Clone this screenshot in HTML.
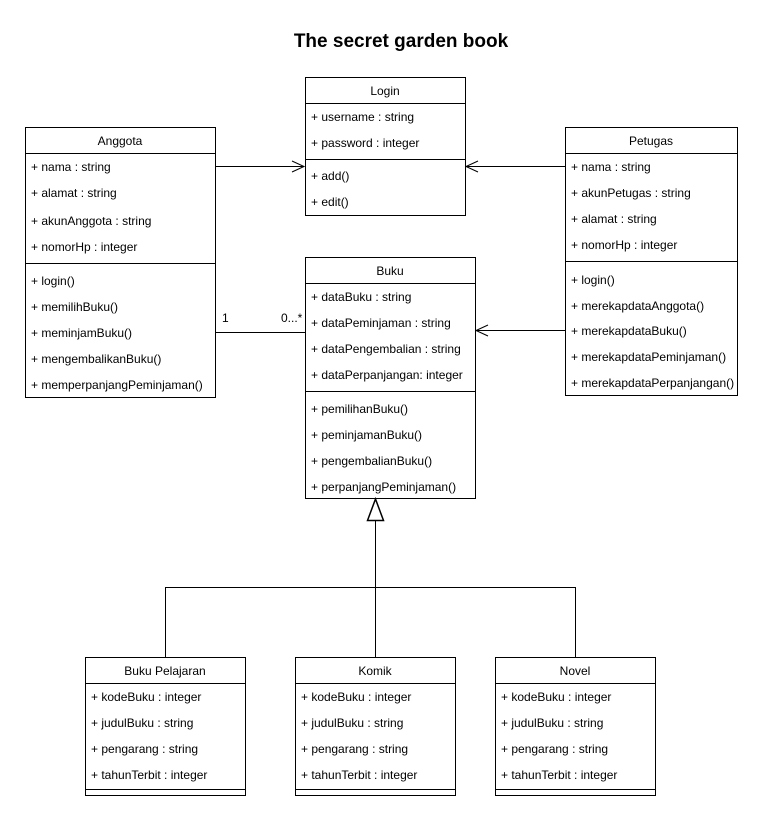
<!DOCTYPE html>
<html><head><meta charset="utf-8"><style>
html,body{margin:0;padding:0;background:#fff;}
svg text{font-family:"Liberation Sans",Arial,sans-serif;font-size:12px;fill:#000;}
</style></head><body>
<svg width="763" height="821" viewBox="0 0 763 821" xmlns="http://www.w3.org/2000/svg">
<rect width="763" height="821" fill="#fff"/>
<text x="401" y="47" text-anchor="middle" style="font-size:19px;font-weight:bold;font-family:'Liberation Sans',sans-serif;">The secret garden book</text>
<g fill="none" stroke="#000" stroke-width="1">
<rect x="305.5" y="77.5" width="160" height="138"/>
<line x1="305" y1="103.5" x2="465" y2="103.5"/>
<line x1="305" y1="159.5" x2="465" y2="159.5"/>
<rect x="25.5" y="127.5" width="190" height="270"/>
<line x1="25" y1="153.5" x2="215" y2="153.5"/>
<line x1="25" y1="263.5" x2="215" y2="263.5"/>
<rect x="565.5" y="127.5" width="172" height="268"/>
<line x1="565" y1="153.5" x2="737" y2="153.5"/>
<line x1="565" y1="261.5" x2="737" y2="261.5"/>
<rect x="305.5" y="257.5" width="170" height="241"/>
<line x1="305" y1="283.5" x2="475" y2="283.5"/>
<line x1="305" y1="391.5" x2="475" y2="391.5"/>
<rect x="85.5" y="657.5" width="160" height="138"/>
<line x1="85" y1="683.5" x2="245" y2="683.5"/>
<line x1="85" y1="789.5" x2="245" y2="789.5"/>
<rect x="295.5" y="657.5" width="160" height="138"/>
<line x1="295" y1="683.5" x2="455" y2="683.5"/>
<line x1="295" y1="789.5" x2="455" y2="789.5"/>
<rect x="495.5" y="657.5" width="160" height="138"/>
<line x1="495" y1="683.5" x2="655" y2="683.5"/>
<line x1="495" y1="789.5" x2="655" y2="789.5"/>
<line x1="215" y1="166.5" x2="304" y2="166.5"/>
<polyline points="292,161 304,166.5 292,172"/>
<line x1="565" y1="166.5" x2="466" y2="166.5"/>
<polyline points="478,161 466,166.5 478,172"/>
<line x1="215" y1="332.5" x2="305" y2="332.5"/>
<line x1="565" y1="330.5" x2="476" y2="330.5"/>
<polyline points="488,325 476,330.5 488,336"/>
<polygon points="375.5,499 367.5,520.5 383.5,520.5" stroke-width="1.5"/>
<line x1="375.5" y1="520.5" x2="375.5" y2="657"/>
<polyline points="165.5,657 165.5,587.5 575.5,587.5 575.5,657"/>
</g>
<text x="222" y="322">1</text>
<text x="281" y="322">0...*</text>
<text x="385" y="95" text-anchor="middle">Login</text>
<text x="311" y="121">+ username : string</text>
<text x="311" y="147">+ password : integer</text>
<text x="311" y="180">+ add()</text>
<text x="311" y="206">+ edit()</text>
<text x="120" y="145" text-anchor="middle">Anggota</text>
<text x="31" y="171">+ nama : string</text>
<text x="31" y="197">+ alamat : string</text>
<text x="31" y="225">+ akunAnggota : string</text>
<text x="31" y="251">+ nomorHp : integer</text>
<text x="31" y="285">+ login()</text>
<text x="31" y="311">+ memilihBuku()</text>
<text x="31" y="337">+ meminjamBuku()</text>
<text x="31" y="363">+ mengembalikanBuku()</text>
<text x="31" y="389">+ memperpanjangPeminjaman()</text>
<text x="651" y="145" text-anchor="middle">Petugas</text>
<text x="571" y="171">+ nama : string</text>
<text x="571" y="197">+ akunPetugas : string</text>
<text x="571" y="223">+ alamat : string</text>
<text x="571" y="249">+ nomorHp : integer</text>
<text x="571" y="284">+ login()</text>
<text x="571" y="310">+ merekapdataAnggota()</text>
<text x="571" y="335">+ merekapdataBuku()</text>
<text x="571" y="361">+ merekapdataPeminjaman()</text>
<text x="571" y="387">+ merekapdataPerpanjangan()</text>
<text x="390" y="275" text-anchor="middle">Buku</text>
<text x="311" y="301">+ dataBuku : string</text>
<text x="311" y="327">+ dataPeminjaman : string</text>
<text x="311" y="353">+ dataPengembalian : string</text>
<text x="311" y="379">+ dataPerpanjangan: integer</text>
<text x="311" y="413">+ pemilihanBuku()</text>
<text x="311" y="439">+ peminjamanBuku()</text>
<text x="311" y="465">+ pengembalianBuku()</text>
<text x="311" y="491">+ perpanjangPeminjaman()</text>
<text x="165" y="675" text-anchor="middle">Buku Pelajaran</text>
<text x="91" y="701">+ kodeBuku : integer</text>
<text x="91" y="727">+ judulBuku : string</text>
<text x="91" y="753">+ pengarang : string</text>
<text x="91" y="779">+ tahunTerbit : integer</text>
<text x="375" y="675" text-anchor="middle">Komik</text>
<text x="301" y="701">+ kodeBuku : integer</text>
<text x="301" y="727">+ judulBuku : string</text>
<text x="301" y="753">+ pengarang : string</text>
<text x="301" y="779">+ tahunTerbit : integer</text>
<text x="575" y="675" text-anchor="middle">Novel</text>
<text x="501" y="701">+ kodeBuku : integer</text>
<text x="501" y="727">+ judulBuku : string</text>
<text x="501" y="753">+ pengarang : string</text>
<text x="501" y="779">+ tahunTerbit : integer</text>
</svg>
</body></html>
